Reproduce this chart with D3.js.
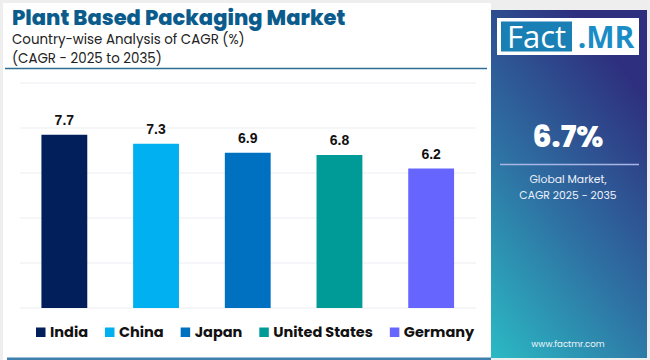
<!DOCTYPE html>
<html><head><meta charset="utf-8">
<script src="https://cdn.jsdelivr.net/npm/d3@7"></script>
<style>html,body{margin:0;padding:0;background:#fff;}svg{display:block;}</style>
</head><body>
<svg id="chart" width="650" height="360"></svg>
<script>
const categories = ["India", "China", "Japan", "United States", "Germany"];
const values = [7.7, 7.3, 6.9, 6.8, 6.2];
const colors = ["#021f5c", "#00b0f0", "#0070c0", "#009b96", "#6666ff"];
const yTicks = [0, 2, 4, 6, 8, 10];
const title = "Plant Based Packaging Market";
const subtitle1 = "Country-wise Analysis of CAGR (%)";
const subtitle2 = "(CAGR - 2025 to 2035)";
const globalValue = "6.7%";
const globalLabel = ["Global Market,", "CAGR 2025 - 2035"];

const svg = d3.select("#chart");
const W = 650, H = 360;
const font = "Poppins, Inter, 'Open Sans', sans-serif";

// background & card
svg.append("rect").attr("x",0).attr("y",0).attr("width",W).attr("height",H).attr("fill","#eeeeee");
svg.append("rect").attr("x",3).attr("y",3).attr("width",488).attr("height",357).attr("fill","#ffffff");
svg.append("rect").attr("x",7).attr("y",357.5).attr("width",484).attr("height",2.5).attr("fill","#3f7fad");

// title block
svg.append("text").attr("x",12).attr("y",24.5).attr("font-family",font).attr("font-weight",800)
  .attr("font-size",21).attr("fill","#0b5c8c").text(title);
svg.append("text").attr("x",12).attr("y",44).attr("font-family",font).attr("font-size",13.4)
  .attr("fill","#222").text(subtitle1);
svg.append("text").attr("x",12).attr("y",62.5).attr("font-family",font).attr("font-size",13.4)
  .attr("fill","#222").text(subtitle2);
svg.append("line").attr("x1",5).attr("x2",487).attr("y1",68.5).attr("y2",68.5)
  .attr("stroke","#2d6f93").attr("stroke-width",1.3);

// scales
const x = d3.scaleBand().domain(categories).range([18.5, 477]).paddingInner(0.5).paddingOuter(0.25);
const y = d3.scaleLinear().domain([0, 10]).range([308, 83]);

// gridlines
svg.append("g").selectAll("line").data(yTicks).join("line")
  .attr("x1",20).attr("x2",476).attr("y1",d=>y(d)).attr("y2",d=>y(d))
  .attr("stroke","#e9edf2").attr("stroke-width",1);

// bars
svg.append("g").selectAll("rect").data(values).join("rect")
  .attr("x",(d,i)=>x(categories[i])).attr("width",x.bandwidth())
  .attr("y",d=>y(d)).attr("height",d=>y(0)-y(d))
  .attr("fill",(d,i)=>colors[i]);

// value labels
svg.append("g").selectAll("text").data(values).join("text")
  .attr("x",(d,i)=>x(categories[i])+x.bandwidth()/2).attr("y",d=>y(d)-10)
  .attr("text-anchor","middle").attr("font-family","'Liberation Sans', Arial, sans-serif")
  .attr("font-weight",700).attr("font-size",14).attr("fill","#111")
  .text(d=>d.toFixed(1));

// legend
const lg = svg.append("g");
const items = lg.selectAll("g").data(categories).join("g");
items.append("rect").attr("width",9.5).attr("height",9.5).attr("y",-9.5).attr("fill",(d,i)=>colors[i]);
items.append("text").attr("x",14).attr("y",0).attr("font-family",font).attr("font-weight",700)
  .attr("font-size",14.5).attr("fill","#111").text(d=>d);
let widths = [];
items.each(function(){ widths.push(this.getBBox().width); });
const total = d3.sum(widths);
const span0 = 36, span1 = 475;
const gap = (span1 - span0 - total) / (categories.length - 1);
let cx = span0;
items.attr("transform",(d,i)=>{ const t = `translate(${cx},337)`; cx += widths[i] + gap; return t; });

// right panel
const defs = svg.append("defs");
const grad = defs.append("linearGradient").attr("id","pg").attr("x1","0").attr("y1","1").attr("x2","0.55").attr("y2","0");
grad.append("stop").attr("offset","0").attr("stop-color","#2bbac4");
grad.append("stop").attr("offset","0.5").attr("stop-color","#2e6fa2");
grad.append("stop").attr("offset","1").attr("stop-color","#2e2f7e");
svg.append("rect").attr("x",491).attr("y",10).attr("width",156).attr("height",348).attr("fill","url(#pg)");

// logo
svg.append("rect").attr("x",497).attr("y",18).attr("width",142).attr("height",37).attr("fill","#ffffff");
svg.append("rect").attr("x",501).attr("y",21.5).attr("width",71).attr("height",30).attr("fill","#1a7fb5");
svg.append("text").attr("x",536.5).attr("y",48).attr("text-anchor","middle")
  .attr("font-family","'Open Sans', 'DejaVu Sans', sans-serif").attr("font-size",31).attr("fill","#fff").text("Fact");
svg.append("text").attr("x",606).attr("y",48).attr("text-anchor","middle")
  .attr("font-family","'Open Sans', 'DejaVu Sans', sans-serif").attr("font-weight",700).attr("font-size",30).attr("fill","#1a8cc6").text(".MR");

// global stat
svg.append("text").attr("x",568).attr("y",147).attr("text-anchor","middle").attr("font-family",font)
  .attr("font-weight",800).attr("font-size",30).attr("fill","#fff").text(globalValue);
svg.append("line").attr("x1",500).attr("x2",639).attr("y1",164.5).attr("y2",164.5)
  .attr("stroke","#a8b6e6").attr("stroke-width",1.3);
svg.append("g").selectAll("text").data(globalLabel).join("text")
  .attr("x",568).attr("y",(d,i)=>183+i*15.5).attr("text-anchor","middle").attr("font-family",font)
  .attr("font-size",10.8).attr("fill","#eef2fa").text(d=>d);
svg.append("text").attr("x",568).attr("y",347).attr("text-anchor","middle").attr("font-family",font)
  .attr("font-size",8.6).attr("fill","#eef6fa").text("www.factmr.com");
</script>
</body></html>
